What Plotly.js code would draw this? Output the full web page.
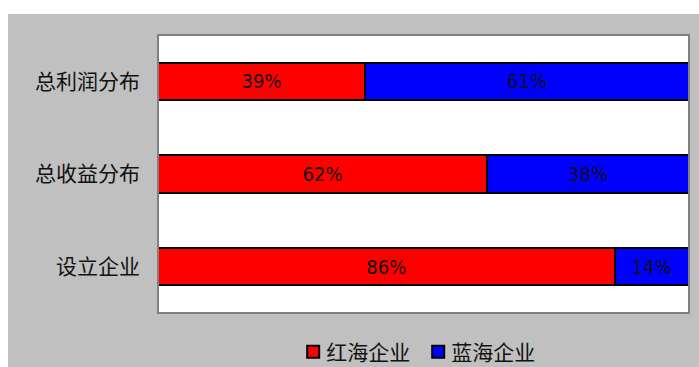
<!DOCTYPE html>
<html><head><meta charset="utf-8">
<script src="https://cdn.plot.ly/plotly-3.0.1.min.js"></script>
<style>
html,body{margin:0;padding:0;background:#fff;width:699px;height:367px;overflow:hidden}
#chart{position:absolute;left:8px;top:14px;width:691px;height:353px}
g.textpoint text{font-stretch:condensed !important;}
g.legend text.legendtext{transform:translateX(-7px);}
</style></head>
<body><div id="chart"></div>
<script>
const categories = ['总利润分布', '总收益分布', '设立企业'];
const seriesNames = ['红海企业', '蓝海企业'];
const redValues = [39, 62, 86];
const blueValues = [61, 38, 14];
const colors = ['#ff0000', '#0000ff'];

const barFont = {family: 'DejaVu Sans Condensed, DejaVu Sans, sans-serif', size: 20, color: '#111'};
function mk(name, vals, color) {
  return {
    type: 'bar', orientation: 'h', name: name,
    y: categories, x: vals,
    text: vals.map(v => v + '%'),
    textposition: 'inside', insidetextanchor: 'middle',
    textfont: barFont, constraintext: 'none',
    hoverinfo: 'none',
    marker: {color: color, line: {color: '#000', width: 2}}
  };
}
const data = [mk(seriesNames[0], redValues, colors[0]), mk(seriesNames[1], blueValues, colors[1])];

const layout = {
  width: 691, height: 353,
  margin: {l: 150, r: 10, t: 21, b: 54, pad: 0, autoexpand: false},
  paper_bgcolor: '#c0c0c0', plot_bgcolor: '#ffffff',
  barmode: 'stack', bargap: 0.6,
  font: {family: 'Noto Sans CJK SC, sans-serif', color: '#000'},
  xaxis: {range: [0, 100], showgrid: false, zeroline: false, showticklabels: false, ticks: '', fixedrange: true},
  yaxis: {autorange: 'reversed', showgrid: false, zeroline: false, ticks: '', ticklabelstandoff: 17,
          tickfont: {family: 'Noto Sans CJK SC, sans-serif', size: 21, color: '#111'}},
  showlegend: true,
  legend: {orientation: 'h', x: 0.49, xanchor: 'center', yref: 'container', y: 0.042, yanchor: 'middle',
           font: {family: 'Noto Sans CJK SC, sans-serif', size: 21, color: '#111'},
           bgcolor: 'rgba(0,0,0,0)', itemwidth: 30, entrywidth: 80, traceorder: 'normal'},
  shapes: [
    {type: 'rect', xref: 'paper', yref: 'paper', x0: 0, x1: 1, y0: 0, y1: 1,
     line: {color: '#808080', width: 2}, layer: 'above'}
  ]
};
Plotly.newPlot('chart', data, layout, {staticPlot: true, displayModeBar: false});
</script></body></html>
